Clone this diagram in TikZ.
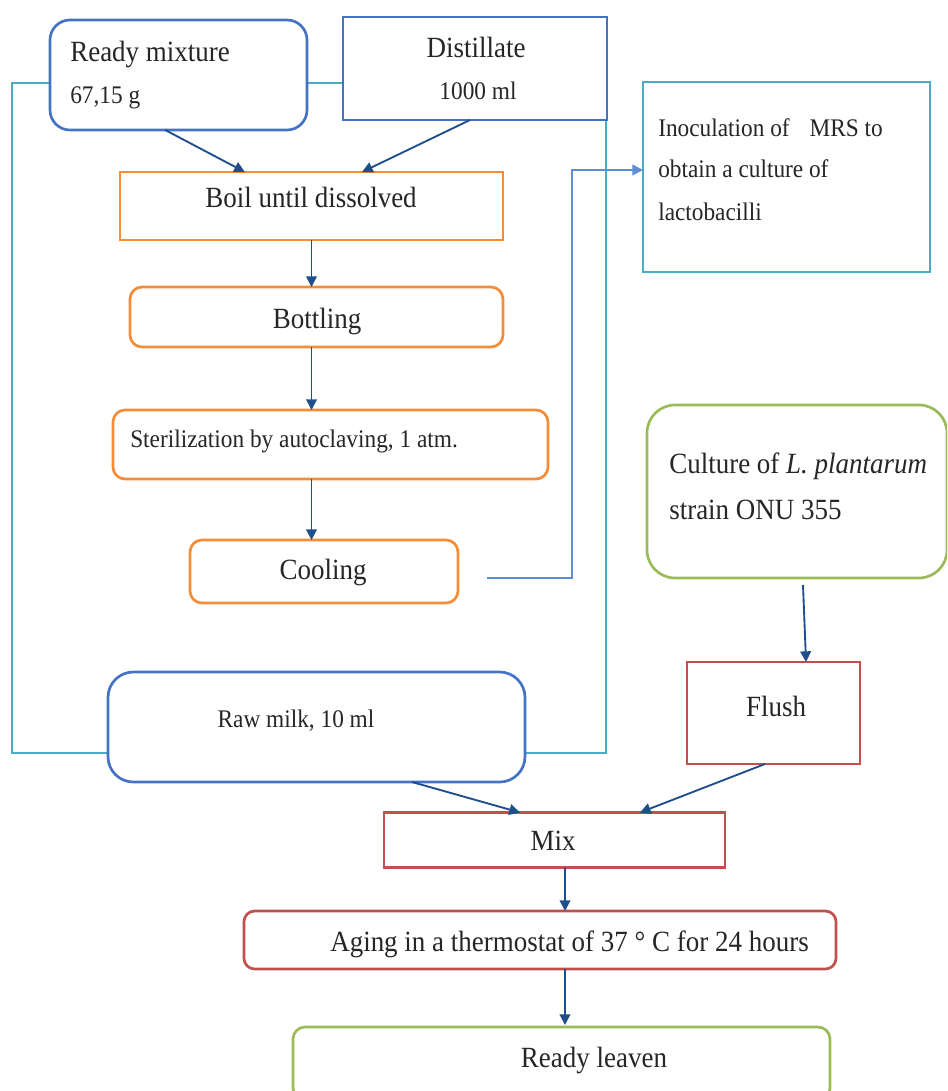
\documentclass[tikz,border=0pt]{standalone}
\usepackage{fontspec}
\setmainfont[FakeStretch=0.92]{Liberation Serif}
\usetikzlibrary{arrows.meta}
\definecolor{boxblue}{RGB}{68,114,196}
\definecolor{boxorange}{RGB}{245,140,55}
\definecolor{boxcyan}{RGB}{75,172,198}
\definecolor{boxgreen}{RGB}{155,187,89}
\definecolor{boxred}{RGB}{192,80,77}
\definecolor{arrblue}{RGB}{31,78,140}
\definecolor{connblue}{RGB}{95,140,210}
\tikzset{
  box/.style={draw=#1, line width=2pt, fill=white, inner sep=0pt, outer sep=0pt},
  sz/.style 2 args={minimum width=#1*0.75pt, minimum height=#2*0.75pt},
  bigtxt/.style={inner sep=0pt, text=black!85, font=\fontsize{22}{26}\selectfont},
  smalltxt/.style={inner sep=0pt, text=black!85, font=\fontsize{19}{23}\selectfont},
  arr/.style={draw=arrblue, line width=1.4pt, -{Triangle[width=8pt,length=8pt]}},
  conn/.style={draw=connblue, line width=1.4pt, -{Triangle[width=8pt,length=8pt]}}
}
\begin{document}
\begin{tikzpicture}[x=0.75pt,y=-0.75pt]
\useasboundingbox (0,0) rectangle (947,1091);
\clip (0,0) rectangle (947,1091);
% frame
\node[draw=boxcyan, line width=1.9pt, inner sep=0pt, sz={594}{670}] (frame) at (309,418) {};
% boxes
\node[box=boxblue, rounded corners=15pt, sz={257}{110}] (mixture) at (178.5,75) {};
\node[box=boxblue, sz={264}{103}] (dist) at (475,68.5) {};
\node[box=boxorange, sz={383}{68}] (boil) at (311.5,206) {};
\node[box=boxorange, rounded corners=9pt, sz={373}{60}] (bott) at (316.5,317) {};
\node[box=boxorange, rounded corners=9pt, sz={435}{69}] (ster) at (330.5,444.5) {};
\node[box=boxorange, rounded corners=9pt, sz={268}{63}] (cool) at (324,571.5) {};
\node[box=boxcyan, sz={287}{190}] (inoc) at (786.5,177) {};
\node[box=boxgreen, rounded corners=21pt, sz={300}{173}] (cult) at (797,491.5) {};
\node[box=boxred, sz={173}{102}] (flush) at (773.5,713) {};
\node[box=boxblue, rounded corners=19pt, sz={417}{110}] (raw) at (316.5,727) {};
\node[box=boxred, sz={341}{55}] (mixb) at (554.5,840) {};
\node[box=boxred, rounded corners=8pt, sz={592}{58}] (aging) at (540,940) {};
\node[box=boxgreen, rounded corners=9pt, sz={537}{73}] (leaven) at (561.5,1063.5) {};
% texts
\node[bigtxt, anchor=base west] (tmix1) at (70,62) {Ready mixture};
\node[smalltxt, anchor=base west] (tmix2) at (70,104) {67,15 g};
\node[bigtxt, anchor=base] (tdist1) at (476,58) {Distillate};
\node[smalltxt, anchor=base] (tdist2) at (478,100) {1000 ml};
\node[bigtxt, anchor=base] (tboil) at (311,208) {Boil until dissolved};
\node[bigtxt, anchor=base] (tbott) at (317,328) {Bottling};
\node[smalltxt, anchor=base west] (tster) at (130,447) {Sterilization by autoclaving, 1 atm.};
\node[bigtxt, anchor=base] (tcool) at (323,579) {Cooling};
\node[smalltxt, anchor=base west] (tinoc1) at (658,137) {Inoculation of\hspace{15pt}MRS to};
\node[smalltxt, anchor=base west] (tinoc2) at (658,178) {obtain a culture of};
\node[smalltxt, anchor=base west] (tinoc3) at (658,220) {lactobacilli};
\node[bigtxt, anchor=base west] (tcult1) at (669,473) {Culture of \textit{L. plantarum}};
\node[bigtxt, anchor=base west] (tcult2) at (669,519) {strain ONU 355};
\node[bigtxt, anchor=base] (tflush) at (776,716) {Flush};
\node[smalltxt, anchor=base] (traw) at (296,727) {Raw milk, 10 ml};
\node[bigtxt, anchor=base] (tmixb) at (553,850) {Mix};
\node[bigtxt, anchor=base west] (taging) at (330,951) {Aging in a thermostat of 37 ° C for 24 hours};
\node[bigtxt, anchor=base] (tleaven) at (594,1067) {Ready leaven};
% arrows
\draw[arr] ([xshift=-10pt]mixture.south) -- ([xshift=-50pt]boil.north);
\draw[arr] ([xshift=-3.75pt]dist.south) -- ([xshift=37.9pt]boil.north);
\draw[arr] (boil.south) -- (boil.south |- bott.north);
\draw[arr] (boil.south |- bott.south) -- (boil.south |- ster.north);
\draw[arr] (boil.south |- ster.south) -- (boil.south |- cool.north);
\coordinate (cs) at (487,578);
\draw[conn] (cs) -- ++(85,0) |- ([yshift=5.25pt]inoc.west);
\draw[arr] ([xshift=4.5pt,yshift=-5.25pt]cult.south) -- ([xshift=24.4pt]flush.north);
\draw[arr] ([xshift=71.6pt]raw.south) -- ([xshift=-25.9pt]mixb.north);
\draw[arr] ([xshift=-6.4pt]flush.south) -- ([xshift=64.1pt]mixb.north);
\draw[arr] ([xshift=7.9pt]mixb.south) -- ([xshift=18.75pt]aging.north);
\draw[arr] ([xshift=18.75pt]aging.south) -- ([xshift=2.6pt,yshift=1.5pt]leaven.north);
\end{tikzpicture}
\end{document}
